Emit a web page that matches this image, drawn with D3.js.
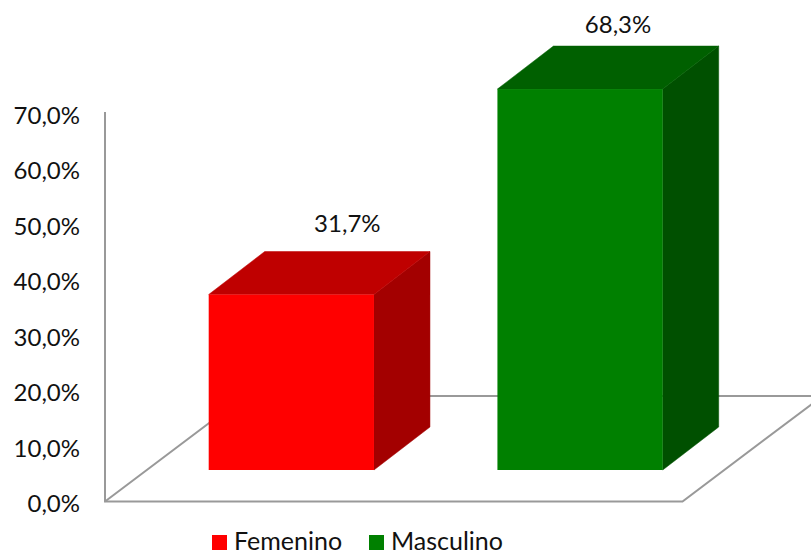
<!DOCTYPE html>
<html>
<head>
<meta charset="utf-8">
<script src="https://cdnjs.cloudflare.com/ajax/libs/d3/7.8.5/d3.min.js"></script>
<style>
  html, body { margin: 0; padding: 0; background: #fff; }
  svg { display: block; }
  text { font-family: Lato, "Open Sans", sans-serif; fill: #111; }
</style>
</head>
<body>
<div id="chart"></div>
<script>
// Chart values
var categories = ["Femenino", "Masculino"];
var percentages = [31.7, 68.3];
var tickValues = [0, 10, 20, 30, 40, 50, 60, 70];
var frontColors = ["#ff0000", "#008000"];
var topColors = ["#bf0000", "#006000"];
var sideColors = ["#a30000", "#005000"];

var svgWidth = 811;
var svgHeight = 556;

// Oblique offset of the 3D box depth
var depthX = 56;
var depthY = 43;

// Floor corners and axis position
var axisX = 105;
var floorFront = 501.5;
var floorBack = 396;
var floorDepthX = 140;
var floorRightX = 682.5;
var barBottom = 470;

var svg = d3.select("#chart")
    .append("svg")
    .attr("width", svgWidth)
    .attr("height", svgHeight);

// Number format with comma decimals: 31,7%
function pct(d) {
    return d.toFixed(1).replace(".", ",") + "%";
}

var yAxisScale = d3.scaleLinear().domain([0, 70]).range([floorFront, 113]);

// The boxes stand a little above the front edge of the floor
var yBar = d3.scaleLinear().domain([0, 70]).range([472.5, 79.5]);

var xBar = d3.scaleBand()
    .domain(categories)
    .range([208.7, 662.7])
    .paddingInner(0.4276)
    .paddingOuter(0);

// Floor and wall lines
var gridColor = "#999999";
var frame = svg.append("g")
    .attr("fill", "none")
    .attr("stroke", gridColor)
    .attr("stroke-width", 2);

var slope = (floorFront - floorBack) / floorDepthX;
frame.append("path").attr("d", d3.line()([
    [axisX, 112], [axisX, floorFront], [floorRightX, floorFront],
    [svgWidth + 2, floorFront - (svgWidth + 2 - floorRightX) * slope]
]));
frame.append("path").attr("d", d3.line()([
    [axisX, floorFront], [axisX + floorDepthX, floorBack], [svgWidth, floorBack]
]));

// Y axis labels
var yAxis = d3.axisLeft(yAxisScale)
    .tickValues(tickValues)
    .tickSize(0)
    .tickPadding(25)
    .tickFormat(pct);

var axisGroup = svg.append("g")
    .attr("transform", "translate(" + axisX + ",0)")
    .call(yAxis);
axisGroup.select(".domain").remove();
axisGroup.selectAll("text")
    .attr("dy", "0.42em")
    .attr("font-size", 24)
    .style("font-family", "Lato, 'Open Sans', sans-serif");

// Boxes
var bars = svg.selectAll(".bar")
    .data(categories)
    .enter()
    .append("g")
    .attr("class", "bar");

bars.append("path")
    .attr("fill", (d, i) => sideColors[i])
    .attr("stroke", (d, i) => sideColors[i])
    .attr("stroke-width", 0.5)
    .attr("d", function(d, i) {
        var x1 = xBar(d) + xBar.bandwidth();
        var top = yBar(percentages[i]);
        return d3.line()([[x1, top], [x1 + depthX, top - depthY],
            [x1 + depthX, barBottom - depthY], [x1, barBottom]]) + "Z";
    });

bars.append("path")
    .attr("fill", (d, i) => topColors[i])
    .attr("stroke", (d, i) => topColors[i])
    .attr("stroke-width", 0.5)
    .attr("d", function(d, i) {
        var x0 = xBar(d);
        var x1 = x0 + xBar.bandwidth();
        var top = yBar(percentages[i]);
        return d3.line()([[x0, top], [x0 + depthX, top - depthY],
            [x1 + depthX, top - depthY], [x1, top]]) + "Z";
    });

bars.append("rect")
    .attr("x", d => xBar(d))
    .attr("width", xBar.bandwidth())
    .attr("y", (d, i) => yBar(percentages[i]))
    .attr("height", (d, i) => barBottom - yBar(percentages[i]))
    .attr("fill", (d, i) => frontColors[i]);

// Value labels above the boxes; the tall one is pushed down and left to stay on the page
var labelShiftX = [0, -18];
var labelGap = [20, 13];
bars.append("text")
    .attr("x", (d, i) => xBar(d) + xBar.bandwidth() / 2 + depthX + labelShiftX[i])
    .attr("y", (d, i) => yBar(percentages[i]) - depthY - labelGap[i])
    .attr("text-anchor", "middle")
    .attr("font-size", 24)
    .text((d, i) => pct(percentages[i]));

// Legend
var legendX = [212, 369];
var legend = svg.selectAll(".legend-item")
    .data(categories)
    .enter()
    .append("g")
    .attr("class", "legend-item")
    .attr("transform", (d, i) => "translate(" + legendX[i] + ",535)");

legend.append("rect")
    .attr("width", 15)
    .attr("height", 15)
    .attr("fill", (d, i) => frontColors[i]);

legend.append("text")
    .attr("x", 22)
    .attr("y", 15)
    .attr("font-size", 25)
    .text(d => d);
</script>
</body>
</html>
